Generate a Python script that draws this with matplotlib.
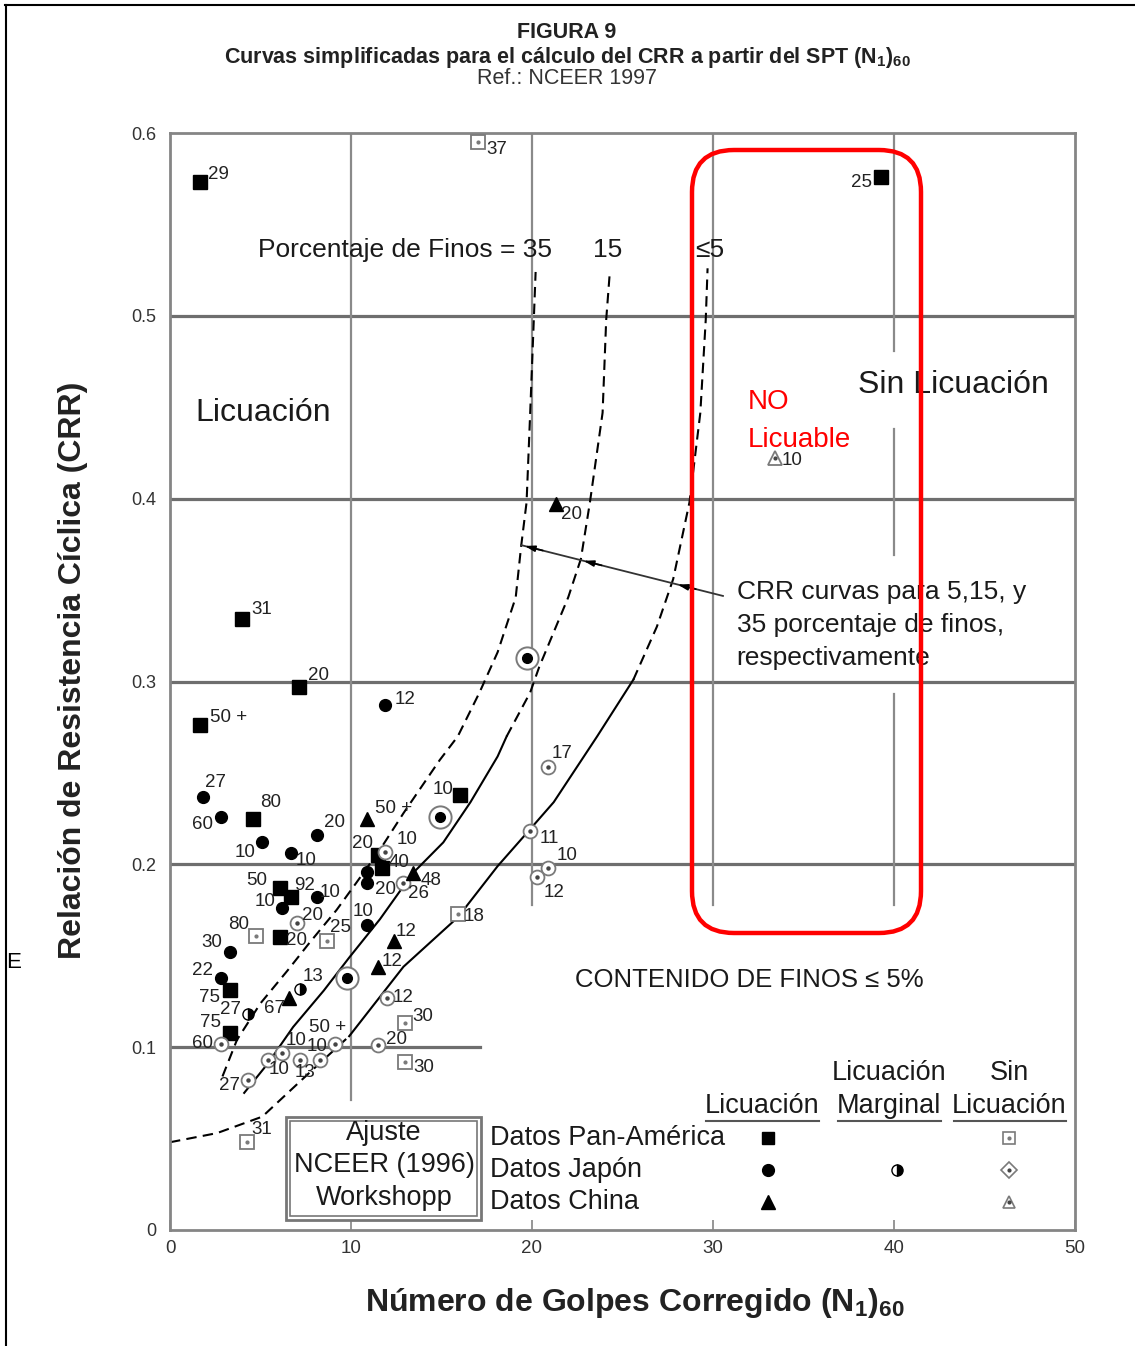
import matplotlib
matplotlib.use("Agg")
import matplotlib.pyplot as plt
from matplotlib.patches import FancyBboxPatch, Rectangle
from matplotlib.lines import Line2D

plt.rcParams['font.family'] = ['Liberation Sans', 'DejaVu Sans']
plt.rcParams['mathtext.fontset'] = 'custom'
plt.rcParams['mathtext.rm'] = 'Liberation Sans'
plt.rcParams['mathtext.bf'] = 'Liberation Sans:bold'

# ---------------- data ----------------
# CRR curves: (N1)60 vs CRR for fines content <=5 %, 15 % and 35 %
curve5_n = [0.0, 2.6, 5.1, 7.7, 9.9, 12.9, 15.9, 18.1, 19.7, 21.2, 23.6, 25.6, 26.9, 27.8, 28.7, 29.3, 29.6, 29.7]
curve5_crr = [0.048, 0.053, 0.062, 0.086, 0.106, 0.144, 0.171, 0.199, 0.217, 0.234, 0.270, 0.301, 0.330, 0.356, 0.398, 0.447, 0.498, 0.526]
curve15_n = [4.1, 5.4, 6.8, 8.5, 9.9, 11.6, 13.4, 15.1, 16.6, 18.1, 18.6, 19.9, 20.4, 22.0, 22.7, 23.2, 23.9, 24.1, 24.3]
curve15_crr = [0.075, 0.091, 0.111, 0.131, 0.149, 0.170, 0.195, 0.212, 0.234, 0.259, 0.270, 0.294, 0.308, 0.346, 0.367, 0.398, 0.447, 0.498, 0.524]
curve35_n = [2.9, 3.7, 5.0, 6.5, 7.7, 9.2, 10.3, 11.6, 12.9, 14.9, 15.9, 17.1, 18.1, 19.1, 19.4, 19.7, 19.9, 20.1, 20.2]
curve35_crr = [0.084, 0.104, 0.124, 0.142, 0.157, 0.175, 0.190, 0.208, 0.228, 0.257, 0.270, 0.294, 0.316, 0.346, 0.374, 0.398, 0.447, 0.498, 0.524]

# Pan-America, liquefaction
pa_liq_n = [1.66, 4.0, 7.1, 1.66, 4.6, 39.3, 16.0, 6.1, 6.7, 6.1, 3.3, 3.3, 11.5, 11.7]
pa_liq_crr = [0.573, 0.334, 0.297, 0.276, 0.225, 0.576, 0.238, 0.187, 0.182, 0.160, 0.131, 0.108, 0.205, 0.198]
pa_liq_lbl = ["29", "31", "20", "50 +", "80", "25", "10", "50", "92", "20", "75", "75", "20", "40"]
# Pan-America, no liquefaction
pa_no_n = [17.0, 4.75, 8.7, 15.9, 13.0, 13.0, 4.25]
pa_no_crr = [0.595, 0.161, 0.158, 0.173, 0.113, 0.092, 0.048]
pa_no_lbl = ["37", "80", "25", "18", "30", "30", "31"]
# Japan, liquefaction
jp_liq_n = [11.9, 1.8, 2.8, 5.1, 6.7, 8.1, 8.1, 6.2, 3.3, 2.8, 10.9, 10.9, 10.9]
jp_liq_crr = [0.287, 0.237, 0.226, 0.212, 0.206, 0.216, 0.182, 0.176, 0.152, 0.138, 0.167, 0.196, 0.190]
jp_liq_lbl = ["12", "27", "60", "10", "10", "20", "10", "10", "30", "22", "10", "", "20"]
# Japan, marginal liquefaction
jp_marg_n = [7.2, 4.3]
jp_marg_crr = [0.132, 0.118]
jp_marg_lbl = ["13", "27"]
jp_ring_n = [14.9, 19.7, 9.8]
jp_ring_crr = [0.226, 0.313, 0.138]
# Japan, no liquefaction
jp_no_n = [20.9, 19.9, 20.9, 20.3, 12.9, 11.9, 7.0, 12.0, 11.5, 2.8, 4.3, 5.4, 6.2, 7.2, 8.3, 9.1]
jp_no_crr = [0.253, 0.218, 0.198, 0.193, 0.190, 0.207, 0.168, 0.127, 0.101, 0.102, 0.082, 0.093, 0.097, 0.093, 0.093, 0.102]
jp_no_lbl = ["17", "11", "10", "12", "26", "10", "20", "12", "20", "60", "27", "10", "10", "13", "10", "50 +"]
# China, liquefaction
cn_liq_n = [21.3, 10.9, 13.4, 12.4, 11.5, 6.6]
cn_liq_crr = [0.397, 0.225, 0.195, 0.158, 0.144, 0.127]
cn_liq_lbl = ["20", "50 +", "48", "12", "12", "67"]
# China, no liquefaction
cn_no_n = [33.4]
cn_no_crr = [0.422]
cn_no_lbl = ["10"]

x_ticks = [0, 10, 20, 30, 40, 50]
y_ticks = [0, 0.1, 0.2, 0.3, 0.4, 0.5, 0.6]
y_tick_labels = ["0", "0.1", "0.2", "0.3", "0.4", "0.5", "0.6"]

# label placement (pixel offsets from each point)
pa_liq_off = [(18, 8), (19, 10), (20, 11), (29, 8), (17, 16), (-20, -6), (-17, 5), (-24, 8), (13, 12),
              (16, -3), (-20, -7), (-19, 10), (-16, 12), (17, 5)]
pa_no_off = [(19, -7), (-17, 11), (13, 14), (16, -3), (17, 7), (18, -6), (15, 13)]
jp_liq_off = [(20, 6), (13, 14), (-18, -8), (-17, -10), (15, -7), (18, 13), (13, 5), (-17, 7), (-18, 10),
              (-18, 7), (-4, 13), (0, 0), (18, -7)]
jp_marg_off = [(13, 12), (-17, 5)]
jp_no_off = [(14, 14), (19, -7), (19, 12), (17, -15), (15, -11), (22, 12), (16, 7), (16, 0), (18, 6),
             (-18, 0), (-18, -5), (11, -10), (14, 12), (5, -13), (-3, 13), (-7, 16)]
cn_liq_off = [(16, -10), (26, 10), (19, -7), (12, 10), (14, 5), (-15, -11)]
cn_no_off = [(18, -2)]

# ---------------- figure ----------------
W, H = 1135, 1346
fig = plt.figure(figsize=(W / 100, H / 100), dpi=100)
ax = fig.add_axes([170 / W, 1 - 1230 / H, 905 / W, 1097 / H])
ax.set_xlim(0, 50)
ax.set_ylim(0, 0.6)

GRID = '#6e6e6e'
for s in ax.spines.values():
    s.set_color('#858585')
    s.set_linewidth(2)

ax.set_xticks(x_ticks)
ax.set_xticklabels([str(t) for t in x_ticks])
ax.set_yticks(y_ticks)
ax.set_yticklabels(y_tick_labels)
ax.tick_params(axis='x', direction='in', length=7, width=1.2, color='#858585', pad=7,
               labelsize=13.5, labelcolor='#333333')
ax.tick_params(axis='y', length=0, pad=10, labelsize=13, labelcolor='#333333')

# reference grid
for yv in [0.2, 0.3, 0.4, 0.5]:
    ax.plot([0, 50], [yv, yv], color=GRID, lw=2.3, zorder=1)
ax.plot([0, 17.1], [0.1, 0.1], color=GRID, lw=2.3, zorder=1)
VG = '#8a8a8a'
ax.plot([10, 10], [0.071, 0.6], color=VG, lw=1.6, zorder=1)
ax.plot([20, 20], [0.178, 0.6], color=VG, lw=1.6, zorder=1)
ax.plot([30, 30], [0.178, 0.6], color=VG, lw=1.6, zorder=1)
for lo, hi in [(0.178, 0.293), (0.369, 0.438), (0.481, 0.6)]:
    ax.plot([40, 40], [lo, hi], color=VG, lw=1.6, zorder=1)

# CRR curves
DASH = (0, (5, 3))


def draw_curve(n, crr, solid_lo=None, solid_hi=None):
    if solid_lo is None:
        ax.plot(n, crr, color='k', lw=1.5, ls=DASH, zorder=2)
        return
    lo = [(a, b) for a, b in zip(n, crr) if a <= solid_lo]
    mid = [(a, b) for a, b in zip(n, crr) if solid_lo <= a <= solid_hi]
    hi = [(a, b) for a, b in zip(n, crr) if a >= solid_hi]
    for seg, style in [(lo, DASH), (mid, '-'), (hi, DASH)]:
        if len(seg) > 1:
            ax.plot([p[0] for p in seg], [p[1] for p in seg], color='k', lw=1.5, ls=style, zorder=2)


draw_curve(curve5_n, curve5_crr, 9.9, 25.6)
draw_curve(curve15_n, curve15_crr, 4.1, 18.6)
draw_curve(curve35_n, curve35_crr)

# pointer line to the three curves
ax.plot([19.4, 30.55], [0.3746, 0.3468], color='#333333', lw=1.3, zorder=3)
for cx, cy in [(19.45, 0.3745), (22.7, 0.3664), (27.9, 0.3534)]:
    ax.annotate('', xy=(cx, cy), xytext=(cx + 1.3, cy - 0.00325),
                arrowprops=dict(arrowstyle='-|>,head_length=0.6,head_width=0.18', color='k', lw=1.2),
                zorder=4)

LBL = dict(ha='center', va='center', fontsize=13.5, color='#222222', zorder=6)


def put_labels(n, crr, labels, offsets):
    for x, y, t, off in zip(n, crr, labels, offsets):
        if t:
            ax.annotate(t, (x, y), xytext=off, textcoords='offset pixels', **LBL)


GRAY = '#7a7a7a'
# Pan-America
ax.plot(pa_liq_n, pa_liq_crr, ls='none', marker='s', ms=10, color='k', zorder=5)
ax.plot(pa_no_n, pa_no_crr, ls='none', marker='s', ms=10, mfc='white', mec=GRAY, mew=1.3, zorder=5)
ax.plot(pa_no_n, pa_no_crr, ls='none', marker='o', ms=2, color=GRAY, zorder=5)
put_labels(pa_liq_n, pa_liq_crr, pa_liq_lbl, pa_liq_off)
put_labels(pa_no_n, pa_no_crr, pa_no_lbl, pa_no_off)
# Japan
ax.plot(jp_liq_n, jp_liq_crr, ls='none', marker='o', ms=8.5, color='k', zorder=5)
ax.plot(jp_marg_n, jp_marg_crr, ls='none', marker='o', ms=8, color='k', fillstyle='right',
        markerfacecoloralt='white', mec='k', mew=1, zorder=5)
ax.plot(jp_ring_n, jp_ring_crr, ls='none', marker='o', ms=16, mfc='white', mec=GRAY, mew=1.4, zorder=5)
ax.plot(jp_ring_n, jp_ring_crr, ls='none', marker='o', ms=7, color='k', zorder=5)
ax.plot(jp_no_n, jp_no_crr, ls='none', marker='o', ms=10, mfc='white', mec=GRAY, mew=1.3, zorder=5)
ax.plot(jp_no_n, jp_no_crr, ls='none', marker='o', ms=2.2, color='#444444', zorder=5)
put_labels(jp_liq_n, jp_liq_crr, jp_liq_lbl, jp_liq_off)
put_labels(jp_marg_n, jp_marg_crr, jp_marg_lbl, jp_marg_off)
put_labels(jp_no_n, jp_no_crr, jp_no_lbl, jp_no_off)
# China
ax.plot(cn_liq_n, cn_liq_crr, ls='none', marker='^', ms=10, color='k', zorder=5)
ax.plot(cn_no_n, cn_no_crr, ls='none', marker='^', ms=10, mfc='white', mec=GRAY, mew=1.3, zorder=5)
ax.plot(cn_no_n, cn_no_crr, ls='none', marker='o', ms=2, color='#444444', zorder=5)
put_labels(cn_liq_n, cn_liq_crr, cn_liq_lbl, cn_liq_off)
put_labels(cn_no_n, cn_no_crr, cn_no_lbl, cn_no_off)

# region and curve annotations
INK = '#1a1a1a'
ax.text(4.86, 0.536, "Porcentaje de Finos = 35", ha='left', va='center', fontsize=19, color=INK, zorder=6)
ax.text(24.2, 0.536, "15", ha='center', va='center', fontsize=19, color=INK, zorder=6)
ax.text(29.8, 0.536, "≤5", ha='center', va='center', fontsize=19, color=INK, zorder=6)
ax.text(1.38, 0.447, "Licuación", ha='left', va='center', fontsize=23, color=INK, zorder=6)
ax.text(38.0, 0.462, "Sin Licuación", ha='left', va='center', fontsize=23, color=INK, zorder=6)
ax.text(31.3, 0.349, "CRR curvas para 5,15, y", ha='left', va='center', fontsize=19, color=INK)
ax.text(31.3, 0.331, "35 porcentaje de finos,", ha='left', va='center', fontsize=19, color=INK)
ax.text(31.3, 0.313, "respectivamente", ha='left', va='center', fontsize=19, color=INK)
ax.text(22.4, 0.137, "CONTENIDO DE FINOS ≤ 5%", ha='left', va='center', fontsize=18.5, color=INK)

# symbol key
TA = ax.transAxes
KEY = dict(transform=TA, fontsize=19.5, color=INK, ha='center', va='center')
ax.text(0.654, 0.113, "Licuación", **KEY)
ax.text(0.7945, 0.143, "Licuación", **KEY)
ax.text(0.7945, 0.113, "Marginal", **KEY)
ax.text(0.927, 0.143, "Sin", **KEY)
ax.text(0.927, 0.113, "Licuación", **KEY)
for x0, x1 in [(0.592, 0.717), (0.738, 0.852), (0.866, 0.990)]:
    ax.plot([x0, x1], [0.0994, 0.0994], transform=TA, color='#555555', lw=1.5)
ROW = dict(transform=TA, fontsize=19.5, color=INK, ha='left', va='center')
ax.text(0.3536, 0.0839, "Datos Pan-América", **ROW)
ax.text(0.3536, 0.0547, "Datos Japón", **ROW)
ax.text(0.3536, 0.0255, "Datos China", **ROW)
ax.plot([0.661], [0.0839], transform=TA, marker='s', ms=9, color='k')
ax.plot([0.927], [0.0839], transform=TA, marker='s', ms=8, mfc='white', mec=GRAY, mew=1.2)
ax.plot([0.927], [0.0839], transform=TA, marker='o', ms=2, color=GRAY)
ax.plot([0.661], [0.0547], transform=TA, marker='o', ms=8.5, color='k')
ax.plot([0.803], [0.0547], transform=TA, marker='o', ms=8, color='k', fillstyle='right',
        markerfacecoloralt='white', mec='k', mew=1)
ax.plot([0.927], [0.0547], transform=TA, marker='D', ms=8, mfc='white', mec=GRAY, mew=1.2)
ax.plot([0.927], [0.0547], transform=TA, marker='o', ms=2, color='#444444')
ax.plot([0.661], [0.0255], transform=TA, marker='^', ms=10, color='k')
ax.plot([0.927], [0.0255], transform=TA, marker='^', ms=9, mfc='white', mec=GRAY, mew=1.2)
ax.plot([0.927], [0.0255], transform=TA, marker='o', ms=2, color='#444444')

# fitted-curve reference box (double frame)
ax.add_patch(Rectangle((0.128, 0.0091), 0.2156, 0.0939, transform=TA, fill=True, fc='white',
                       ec='#777777', lw=2, zorder=6))
ax.add_patch(Rectangle((0.1325, 0.0128), 0.2067, 0.0865, transform=TA, fill=False,
                       ec='#777777', lw=1.2, zorder=6))
BOX = dict(transform=TA, fontsize=19.5, color=INK, ha='center', va='center', zorder=7)
ax.text(0.2365, 0.0884, "Ajuste", **BOX)
ax.text(0.2365, 0.0593, "NCEER (1996)", **BOX)
ax.text(0.2365, 0.0292, "Workshopp", **BOX)

# non-liquefiable zone highlight
ax.text(31.9, 0.453, "NO", ha='left', va='center', fontsize=20, color='#ff0000', zorder=7)
ax.text(31.9, 0.432, "Licuable", ha='left', va='center', fontsize=20, color='#ff0000', zorder=7)
fig.patches.append(FancyBboxPatch((6.92, 4.13), 2.29, 7.83,
                                  boxstyle='round,pad=0,rounding_size=0.42',
                                  transform=fig.dpi_scale_trans, fill=False, ec='#ff0000', lw=3.2))

# titles and axis labels
fig.text(0.4996, 1 - 33 / H, "FIGURA 9", ha='center', va='center', fontsize=15.5, fontweight='bold',
         color='#222222')
fig.text(0.4996, 1 - 57 / H,
         r"Curvas simplificadas para el cálculo del CRR a partir del SPT (N$_\mathbf{1}$)$_\mathbf{60}$",
         ha='center', va='center', fontsize=15.5, fontweight='bold', color='#222222')
fig.text(0.4996, 1 - 79 / H, "Ref.: NCEER 1997", ha='center', va='center', fontsize=15.5, color='#333333')
fig.text(73 / W, 1 - 670 / H, "Relación de Resistencia Cíclica (CRR)", rotation=90, ha='center',
         va='center', fontsize=23, fontweight='bold', color='#222222')
fig.text(635 / W, 1 - 1303 / H, r"Número de Golpes Corregido (N$_\mathbf{1}$)$_\mathbf{60}$",
         ha='center', va='center', fontsize=23, fontweight='bold', color='#222222')
fig.text(14 / W, 1 - 962 / H, "E", ha='center', va='center', fontsize=16, color='k')

# page frame
fig.add_artist(Line2D([5 / W, 1], [1 - 5 / H, 1 - 5 / H], transform=fig.transFigure, color='k', lw=1.5))
fig.add_artist(Line2D([6 / W, 6 / W], [0, 1 - 5 / H], transform=fig.transFigure, color='k', lw=1.5))

fig.savefig('out.png', dpi=100, facecolor='white')
